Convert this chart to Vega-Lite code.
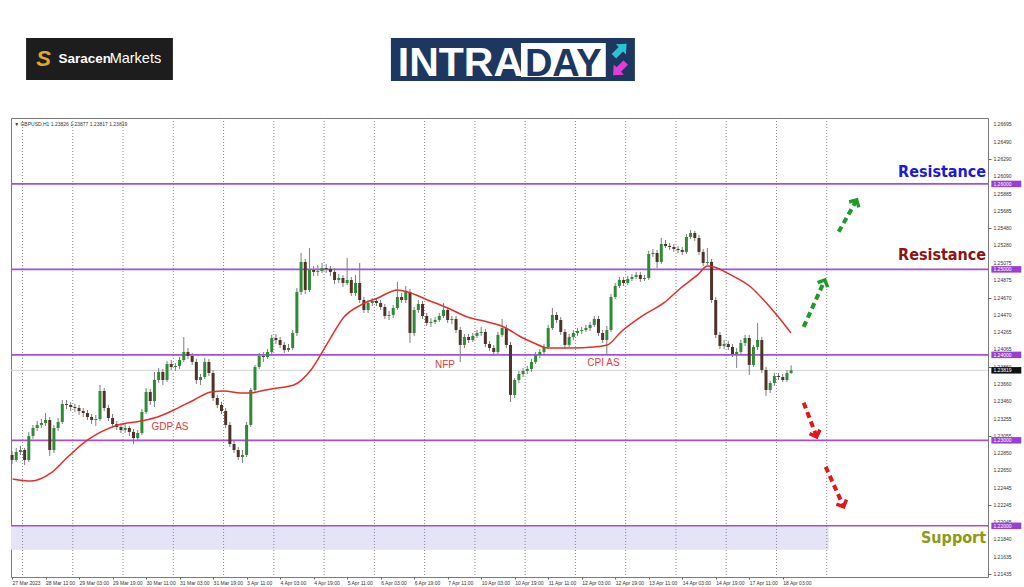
{
"$schema":"https://vega.github.io/schema/vega-lite/v6.json",
"width":977,"height":459,
"autosize":"none",
"padding":{"left":11,"top":118,"right":36,"bottom":10},
"background":"#ffffff",
"config":{"view":{"stroke":"#7a7a7a","strokeWidth":1},"font":"Liberation Sans"},
"datasets":{
"candles":[
{"i":0,"o":1.22829,"h":1.22875,"l":1.22723,"c":1.22770},
{"i":2,"o":1.22770,"h":1.22910,"l":1.22747,"c":1.22864},
{"i":4,"o":1.22864,"h":1.22934,"l":1.22829,"c":1.22887},
{"i":6,"o":1.22887,"h":1.22910,"l":1.22712,"c":1.22770},
{"i":8,"o":1.22770,"h":1.23098,"l":1.22747,"c":1.23051},
{"i":10,"o":1.23051,"h":1.23180,"l":1.23016,"c":1.23144},
{"i":12,"o":1.23144,"h":1.23226,"l":1.23109,"c":1.23180},
{"i":14,"o":1.23180,"h":1.23250,"l":1.23144,"c":1.23203},
{"i":16,"o":1.23203,"h":1.23320,"l":1.23168,"c":1.23238},
{"i":18,"o":1.23238,"h":1.23273,"l":1.22817,"c":1.22887},
{"i":20,"o":1.22887,"h":1.23180,"l":1.22852,"c":1.23144},
{"i":22,"o":1.23144,"h":1.23261,"l":1.23109,"c":1.23215},
{"i":24,"o":1.23215,"h":1.23472,"l":1.23191,"c":1.23425},
{"i":26,"o":1.23425,"h":1.23472,"l":1.23367,"c":1.23414},
{"i":28,"o":1.23414,"h":1.23449,"l":1.23343,"c":1.23390},
{"i":30,"o":1.23390,"h":1.23425,"l":1.23332,"c":1.23378},
{"i":32,"o":1.23378,"h":1.23414,"l":1.23297,"c":1.23343},
{"i":34,"o":1.23343,"h":1.23378,"l":1.23273,"c":1.23320},
{"i":36,"o":1.23320,"h":1.23355,"l":1.23238,"c":1.23273},
{"i":38,"o":1.23273,"h":1.23308,"l":1.23191,"c":1.23238},
{"i":40,"o":1.23238,"h":1.23297,"l":1.23168,"c":1.23250},
{"i":42,"o":1.23250,"h":1.23648,"l":1.23226,"c":1.23577},
{"i":44,"o":1.23577,"h":1.23612,"l":1.23343,"c":1.23378},
{"i":46,"o":1.23378,"h":1.23414,"l":1.23226,"c":1.23261},
{"i":48,"o":1.23261,"h":1.23308,"l":1.23156,"c":1.23191},
{"i":50,"o":1.23191,"h":1.23226,"l":1.23121,"c":1.23156},
{"i":52,"o":1.23156,"h":1.23191,"l":1.23086,"c":1.23121},
{"i":54,"o":1.23121,"h":1.23191,"l":1.23086,"c":1.23144},
{"i":56,"o":1.23144,"h":1.23168,"l":1.23051,"c":1.23098},
{"i":58,"o":1.23098,"h":1.23133,"l":1.22957,"c":1.23027},
{"i":60,"o":1.23027,"h":1.23121,"l":1.22992,"c":1.23086},
{"i":62,"o":1.23086,"h":1.23367,"l":1.23063,"c":1.23332},
{"i":64,"o":1.23332,"h":1.23612,"l":1.23308,"c":1.23566},
{"i":66,"o":1.23566,"h":1.23601,"l":1.23414,"c":1.23460},
{"i":68,"o":1.23460,"h":1.23800,"l":1.23390,"c":1.23706},
{"i":70,"o":1.23706,"h":1.23846,"l":1.23671,"c":1.23800},
{"i":72,"o":1.23800,"h":1.23835,"l":1.23648,"c":1.23706},
{"i":74,"o":1.23706,"h":1.23928,"l":1.23683,"c":1.23893},
{"i":76,"o":1.23893,"h":1.23940,"l":1.23823,"c":1.23858},
{"i":78,"o":1.23858,"h":1.23905,"l":1.23811,"c":1.23870},
{"i":80,"o":1.23870,"h":1.23975,"l":1.23835,"c":1.23940},
{"i":82,"o":1.23940,"h":1.24209,"l":1.23917,"c":1.24034},
{"i":84,"o":1.24034,"h":1.24080,"l":1.23952,"c":1.23987},
{"i":86,"o":1.23987,"h":1.24022,"l":1.23882,"c":1.23917},
{"i":88,"o":1.23917,"h":1.23952,"l":1.23659,"c":1.23706},
{"i":90,"o":1.23706,"h":1.23776,"l":1.23648,"c":1.23741},
{"i":92,"o":1.23741,"h":1.23963,"l":1.23718,"c":1.23917},
{"i":94,"o":1.23917,"h":1.23952,"l":1.23753,"c":1.23788},
{"i":96,"o":1.23788,"h":1.23823,"l":1.23460,"c":1.23495},
{"i":98,"o":1.23495,"h":1.23531,"l":1.23378,"c":1.23414},
{"i":100,"o":1.23414,"h":1.23449,"l":1.23308,"c":1.23343},
{"i":102,"o":1.23343,"h":1.23378,"l":1.23144,"c":1.23180},
{"i":104,"o":1.23180,"h":1.23215,"l":1.22922,"c":1.22957},
{"i":106,"o":1.22957,"h":1.23004,"l":1.22852,"c":1.22887},
{"i":108,"o":1.22887,"h":1.22922,"l":1.22770,"c":1.22805},
{"i":110,"o":1.22805,"h":1.22887,"l":1.22735,"c":1.22829},
{"i":112,"o":1.22829,"h":1.23215,"l":1.22805,"c":1.23180},
{"i":114,"o":1.23180,"h":1.23612,"l":1.23156,"c":1.23589},
{"i":116,"o":1.23589,"h":1.23882,"l":1.23566,"c":1.23858},
{"i":118,"o":1.23858,"h":1.24022,"l":1.23835,"c":1.23987},
{"i":120,"o":1.23987,"h":1.24034,"l":1.23917,"c":1.23975},
{"i":122,"o":1.23975,"h":1.24069,"l":1.23952,"c":1.24034},
{"i":124,"o":1.24034,"h":1.24233,"l":1.24010,"c":1.24197},
{"i":126,"o":1.24197,"h":1.24244,"l":1.24127,"c":1.24174},
{"i":128,"o":1.24174,"h":1.24209,"l":1.24080,"c":1.24116},
{"i":130,"o":1.24116,"h":1.24151,"l":1.24022,"c":1.24057},
{"i":132,"o":1.24057,"h":1.24127,"l":1.24034,"c":1.24080},
{"i":134,"o":1.24080,"h":1.24291,"l":1.24057,"c":1.24256},
{"i":136,"o":1.24256,"h":1.24782,"l":1.24221,"c":1.24736},
{"i":138,"o":1.24736,"h":1.25192,"l":1.24701,"c":1.25087},
{"i":140,"o":1.25087,"h":1.25122,"l":1.24712,"c":1.24759},
{"i":142,"o":1.24759,"h":1.25250,"l":1.24736,"c":1.24993},
{"i":144,"o":1.24993,"h":1.25040,"l":1.24923,"c":1.24970},
{"i":146,"o":1.24970,"h":1.25052,"l":1.24923,"c":1.24981},
{"i":148,"o":1.24981,"h":1.25075,"l":1.24958,"c":1.25016},
{"i":150,"o":1.25016,"h":1.25063,"l":1.24958,"c":1.25005},
{"i":152,"o":1.25005,"h":1.25040,"l":1.24923,"c":1.24970},
{"i":154,"o":1.24970,"h":1.25016,"l":1.24829,"c":1.24876},
{"i":156,"o":1.24876,"h":1.24946,"l":1.24841,"c":1.24899},
{"i":158,"o":1.24899,"h":1.24935,"l":1.24794,"c":1.24841},
{"i":160,"o":1.24841,"h":1.25133,"l":1.24818,"c":1.24876},
{"i":162,"o":1.24876,"h":1.24911,"l":1.24689,"c":1.24724},
{"i":164,"o":1.24724,"h":1.24935,"l":1.24689,"c":1.24841},
{"i":166,"o":1.24841,"h":1.25075,"l":1.24607,"c":1.24642},
{"i":168,"o":1.24642,"h":1.24677,"l":1.24490,"c":1.24525},
{"i":170,"o":1.24525,"h":1.24642,"l":1.24490,"c":1.24607},
{"i":172,"o":1.24607,"h":1.24665,"l":1.24572,"c":1.24630},
{"i":174,"o":1.24630,"h":1.24665,"l":1.24572,"c":1.24607},
{"i":176,"o":1.24607,"h":1.24642,"l":1.24525,"c":1.24560},
{"i":178,"o":1.24560,"h":1.24595,"l":1.24420,"c":1.24455},
{"i":180,"o":1.24455,"h":1.24513,"l":1.24408,"c":1.24467},
{"i":182,"o":1.24467,"h":1.24584,"l":1.24431,"c":1.24548},
{"i":184,"o":1.24548,"h":1.24853,"l":1.24525,"c":1.24677},
{"i":186,"o":1.24677,"h":1.24724,"l":1.24607,"c":1.24642},
{"i":188,"o":1.24642,"h":1.24806,"l":1.24607,"c":1.24736},
{"i":190,"o":1.24736,"h":1.24771,"l":1.24139,"c":1.24256},
{"i":192,"o":1.24256,"h":1.24560,"l":1.24221,"c":1.24525},
{"i":194,"o":1.24525,"h":1.24642,"l":1.24490,"c":1.24595},
{"i":196,"o":1.24595,"h":1.24630,"l":1.24420,"c":1.24455},
{"i":198,"o":1.24455,"h":1.24490,"l":1.24338,"c":1.24373},
{"i":200,"o":1.24373,"h":1.24431,"l":1.24326,"c":1.24385},
{"i":202,"o":1.24385,"h":1.24443,"l":1.24361,"c":1.24408},
{"i":204,"o":1.24408,"h":1.24490,"l":1.24385,"c":1.24455},
{"i":206,"o":1.24455,"h":1.24607,"l":1.24431,"c":1.24525},
{"i":208,"o":1.24525,"h":1.24560,"l":1.24373,"c":1.24408},
{"i":210,"o":1.24408,"h":1.24455,"l":1.24361,"c":1.24420},
{"i":212,"o":1.24420,"h":1.24455,"l":1.24256,"c":1.24291},
{"i":214,"o":1.24291,"h":1.24326,"l":1.23917,"c":1.24116},
{"i":216,"o":1.24116,"h":1.24244,"l":1.24080,"c":1.24209},
{"i":218,"o":1.24209,"h":1.24244,"l":1.24139,"c":1.24174},
{"i":220,"o":1.24174,"h":1.24256,"l":1.24151,"c":1.24221},
{"i":222,"o":1.24221,"h":1.24291,"l":1.24197,"c":1.24256},
{"i":224,"o":1.24256,"h":1.24326,"l":1.24221,"c":1.24268},
{"i":226,"o":1.24268,"h":1.24303,"l":1.24092,"c":1.24127},
{"i":228,"o":1.24127,"h":1.24162,"l":1.24045,"c":1.24080},
{"i":230,"o":1.24080,"h":1.24116,"l":1.23987,"c":1.24034},
{"i":232,"o":1.24034,"h":1.24268,"l":1.24010,"c":1.24233},
{"i":234,"o":1.24233,"h":1.24420,"l":1.24209,"c":1.24314},
{"i":236,"o":1.24314,"h":1.24350,"l":1.24080,"c":1.24116},
{"i":238,"o":1.24116,"h":1.24151,"l":1.23449,"c":1.23531},
{"i":240,"o":1.23531,"h":1.23729,"l":1.23495,"c":1.23706},
{"i":242,"o":1.23706,"h":1.23811,"l":1.23671,"c":1.23776},
{"i":244,"o":1.23776,"h":1.23846,"l":1.23741,"c":1.23811},
{"i":246,"o":1.23811,"h":1.23870,"l":1.23776,"c":1.23835},
{"i":248,"o":1.23835,"h":1.23952,"l":1.23800,"c":1.23917},
{"i":250,"o":1.23917,"h":1.24034,"l":1.23893,"c":1.23999},
{"i":252,"o":1.23999,"h":1.24069,"l":1.23963,"c":1.24034},
{"i":254,"o":1.24034,"h":1.24127,"l":1.23999,"c":1.24092},
{"i":256,"o":1.24092,"h":1.24350,"l":1.24069,"c":1.24314},
{"i":258,"o":1.24314,"h":1.24548,"l":1.24291,"c":1.24467},
{"i":260,"o":1.24467,"h":1.24502,"l":1.24373,"c":1.24408},
{"i":262,"o":1.24408,"h":1.24443,"l":1.24233,"c":1.24268},
{"i":264,"o":1.24268,"h":1.24303,"l":1.24069,"c":1.24116},
{"i":266,"o":1.24116,"h":1.24244,"l":1.24092,"c":1.24209},
{"i":268,"o":1.24209,"h":1.24291,"l":1.24174,"c":1.24256},
{"i":270,"o":1.24256,"h":1.24314,"l":1.24221,"c":1.24279},
{"i":272,"o":1.24279,"h":1.24326,"l":1.24244,"c":1.24291},
{"i":274,"o":1.24291,"h":1.24350,"l":1.24268,"c":1.24314},
{"i":276,"o":1.24314,"h":1.24385,"l":1.24279,"c":1.24350},
{"i":278,"o":1.24350,"h":1.24455,"l":1.24326,"c":1.24420},
{"i":280,"o":1.24420,"h":1.24455,"l":1.24221,"c":1.24256},
{"i":282,"o":1.24256,"h":1.24291,"l":1.24139,"c":1.24174},
{"i":284,"o":1.24174,"h":1.24338,"l":1.24010,"c":1.24291},
{"i":286,"o":1.24291,"h":1.24712,"l":1.24268,"c":1.24677},
{"i":288,"o":1.24677,"h":1.24841,"l":1.24654,"c":1.24806},
{"i":290,"o":1.24806,"h":1.24911,"l":1.24782,"c":1.24876},
{"i":292,"o":1.24876,"h":1.24911,"l":1.24806,"c":1.24841},
{"i":294,"o":1.24841,"h":1.24923,"l":1.24818,"c":1.24888},
{"i":296,"o":1.24888,"h":1.24946,"l":1.24864,"c":1.24911},
{"i":298,"o":1.24911,"h":1.24970,"l":1.24888,"c":1.24935},
{"i":300,"o":1.24935,"h":1.24970,"l":1.24853,"c":1.24888},
{"i":302,"o":1.24888,"h":1.24935,"l":1.24864,"c":1.24899},
{"i":304,"o":1.24899,"h":1.25215,"l":1.24876,"c":1.25180},
{"i":306,"o":1.25180,"h":1.25239,"l":1.25145,"c":1.25192},
{"i":308,"o":1.25192,"h":1.25227,"l":1.25016,"c":1.25087},
{"i":310,"o":1.25087,"h":1.25367,"l":1.25063,"c":1.25297},
{"i":312,"o":1.25297,"h":1.25344,"l":1.25250,"c":1.25274},
{"i":314,"o":1.25274,"h":1.25309,"l":1.25227,"c":1.25262},
{"i":316,"o":1.25262,"h":1.25297,"l":1.25204,"c":1.25239},
{"i":318,"o":1.25239,"h":1.25274,"l":1.25192,"c":1.25227},
{"i":320,"o":1.25227,"h":1.25262,"l":1.25169,"c":1.25204},
{"i":322,"o":1.25204,"h":1.25414,"l":1.25180,"c":1.25379},
{"i":324,"o":1.25379,"h":1.25461,"l":1.25356,"c":1.25426},
{"i":326,"o":1.25426,"h":1.25449,"l":1.25332,"c":1.25367},
{"i":328,"o":1.25367,"h":1.25403,"l":1.25169,"c":1.25204},
{"i":330,"o":1.25204,"h":1.25239,"l":1.25040,"c":1.25075},
{"i":332,"o":1.25075,"h":1.25250,"l":1.25052,"c":1.25087},
{"i":334,"o":1.25087,"h":1.25122,"l":1.24607,"c":1.24642},
{"i":336,"o":1.24642,"h":1.24677,"l":1.24197,"c":1.24233},
{"i":338,"o":1.24233,"h":1.24268,"l":1.24069,"c":1.24104},
{"i":340,"o":1.24104,"h":1.24174,"l":1.24069,"c":1.24127},
{"i":342,"o":1.24127,"h":1.24162,"l":1.24057,"c":1.24092},
{"i":344,"o":1.24092,"h":1.24127,"l":1.23975,"c":1.24010},
{"i":346,"o":1.24010,"h":1.24080,"l":1.23846,"c":1.24034},
{"i":348,"o":1.24034,"h":1.24174,"l":1.23999,"c":1.24139},
{"i":350,"o":1.24139,"h":1.24233,"l":1.24104,"c":1.24197},
{"i":352,"o":1.24197,"h":1.24233,"l":1.23765,"c":1.23882},
{"i":354,"o":1.23882,"h":1.24116,"l":1.23858,"c":1.24092},
{"i":356,"o":1.24092,"h":1.24373,"l":1.24057,"c":1.24174},
{"i":358,"o":1.24174,"h":1.24209,"l":1.23788,"c":1.23823},
{"i":360,"o":1.23823,"h":1.23858,"l":1.23519,"c":1.23589},
{"i":362,"o":1.23589,"h":1.23694,"l":1.23554,"c":1.23671},
{"i":364,"o":1.23671,"h":1.23788,"l":1.23636,"c":1.23753},
{"i":366,"o":1.23753,"h":1.23788,"l":1.23706,"c":1.23741},
{"i":368,"o":1.23741,"h":1.23776,"l":1.23683,"c":1.23706},
{"i":370,"o":1.23706,"h":1.23823,"l":1.23683,"c":1.23788},
{"i":372,"o":1.23788,"h":1.23877,"l":1.23776,"c":1.23819}
],
"ma":[
{"i":0.3,"v":1.22548},{"i":9.1,"v":1.22524},{"i":18.6,"v":1.22618},{"i":26.6,"v":1.22805},{"i":36.1,"v":1.23004},{"i":42.5,"v":1.23098},{"i":50.5,"v":1.2318},{"i":61.6,"v":1.23226},{"i":69.5,"v":1.23273},{"i":77.3,"v":1.23355},{"i":86.9,"v":1.23472},{"i":95,"v":1.23566},{"i":101.2,"v":1.23577},{"i":109.3,"v":1.23554},{"i":114.1,"v":1.23554},{"i":118.9,"v":1.23577},{"i":123.6,"v":1.23601},{"i":134.6,"v":1.23648},{"i":142.7,"v":1.23823},{"i":150.7,"v":1.24139},{"i":158.5,"v":1.24443},{"i":166.6,"v":1.24584},{"i":174.6,"v":1.24665},{"i":184.1,"v":1.24759},{"i":188.9,"v":1.24736},{"i":198.4,"v":1.24642},{"i":208,"v":1.24548},{"i":217.5,"v":1.24443},{"i":227.1,"v":1.24385},{"i":234.8,"v":1.24326},{"i":243,"v":1.24209},{"i":249.2,"v":1.24139},{"i":255.7,"v":1.2408},{"i":266.8,"v":1.2408},{"i":277.8,"v":1.24092},{"i":284.3,"v":1.24116},{"i":290.7,"v":1.24268},{"i":301.7,"v":1.24467},{"i":311.2,"v":1.24607},{"i":319.3,"v":1.24782},{"i":327.3,"v":1.24935},{"i":332.1,"v":1.2504},{"i":335.1,"v":1.25028},{"i":343.2,"v":1.24935},{"i":352.7,"v":1.24794},{"i":358.9,"v":1.24642},{"i":367.1,"v":1.24408},{"i":371.9,"v":1.24256}
],
"levels":[{"p":1.26,"t":"1.26000"},{"p":1.25,"t":"1.25000"},{"p":1.24,"t":"1.24000"},{"p":1.23,"t":"1.23000"},{"p":1.22,"t":"1.22000"}],
"yticks":[{"p":1.26695},{"p":1.2649},{"p":1.2629},{"p":1.2609},{"p":1.25885},{"p":1.25685},{"p":1.2548},{"p":1.2528},{"p":1.25075},{"p":1.24875},{"p":1.2467},{"p":1.2447},{"p":1.24265},{"p":1.24065},{"p":1.2386},{"p":1.2366},{"p":1.2346},{"p":1.23255},{"p":1.23055},{"p":1.2285},{"p":1.2265},{"p":1.22445},{"p":1.22245},{"p":1.22045},{"p":1.2184},{"p":1.21635},{"p":1.21435}],
"grid":[{"i":5},{"i":29},{"i":53},{"i":77},{"i":101},{"i":125},{"i":149},{"i":173},{"i":197},{"i":221},{"i":245},{"i":269},{"i":293},{"i":317},{"i":341},{"i":365},{"i":389}],
"arrows":[
{"i0":394.7,"p0":1.25439,"i1":403.3,"p1":1.25813,"d":"up"},
{"i0":378.0,"p0":1.24327,"i1":388.1,"p1":1.24877,"d":"up"},
{"i0":378.0,"p0":1.23439,"i1":384.2,"p1":1.23041,"d":"down"},
{"i0":388.5,"p0":1.22690,"i1":397.1,"p1":1.22222,"d":"down"}
]
},
"layer":[
{"data":{"values":[{"i0":-0.5,"i1":390,"p0":1.21719,"p1":1.22}]},
 "mark":{"type":"rect","color":"#e4e4f6"},
 "encoding":{
  "x":{"field":"i0","type":"quantitative","scale":{"domain":[-0.5,466],"nice":false,"zero":false,"padding":0},
   "axis":{"orient":"bottom","values":[0,16,32,48,64,80,96,112,128,144,160,176,192,208,224,240,256,272,288,304,320,336,352,368],
    "labelExpr":"['27 Mar 2023','28 Mar 11:00','29 Mar 03:00','29 Mar 19:00','30 Mar 11:00','31 Mar 03:00','31 Mar 19:00','3 Apr 11:00','4 Apr 03:00','4 Apr 19:00','5 Apr 11:00','6 Apr 03:00','6 Apr 19:00','7 Apr 11:00','10 Apr 03:00','10 Apr 19:00','11 Apr 11:00','12 Apr 03:00','12 Apr 19:00','13 Apr 11:00','14 Apr 03:00','14 Apr 19:00','17 Apr 11:00','18 Apr 03:00'][round(datum.value/16)]",
    "labelAlign":"left","labelFontSize":5,"labelColor":"#333333","tickSize":2,"tickColor":"#666666","labelPadding":1,"domain":false,"grid":false,"title":null,"labelFlush":false,"labelOverlap":false}},
  "x2":{"field":"i1"},
  "y":{"field":"p0","type":"quantitative","scale":{"domain":[1.21401,1.26771],"nice":false,"zero":false,"padding":0},
   "axis":{"orient":"right","values":[1.26695,1.2649,1.2629,1.2609,1.25885,1.25685,1.2548,1.2528,1.25075,1.24875,1.2467,1.2447,1.24265,1.24065,1.2386,1.2366,1.2346,1.23255,1.23055,1.2285,1.2265,1.22445,1.22245,1.22045,1.2184,1.21635,1.21435],
    "labels":false,"tickSize":3,"tickColor":"#666666","domain":false,"grid":false,"title":null}},
  "y2":{"field":"p1"}}},
{"data":{"name":"yticks"},"mark":{"type":"text","color":"#333333","fontSize":5,"align":"left","baseline":"middle"},
 "encoding":{"x":{"datum":468.6,"type":"quantitative"},"y":{"field":"p","type":"quantitative"},"text":{"field":"p","type":"quantitative","format":".5f"}}},
{"data":{"name":"grid"},"mark":{"type":"rule","color":"#8a8a8a","strokeDash":[1,2],"strokeWidth":1},
 "encoding":{"x":{"field":"i","type":"quantitative"}}},
{"data":{"name":"levels"},"mark":{"type":"rule","color":"#a44fd8","strokeWidth":1.6},
 "encoding":{"y":{"field":"p","type":"quantitative"}}},
{"data":{"values":[{"p":1.23819}]},"mark":{"type":"rule","color":"#d2d2d2","strokeWidth":1},
 "encoding":{"y":{"field":"p","type":"quantitative"}}},
{"data":{"name":"candles"},"mark":{"type":"rule","color":"#7d7d7d","strokeWidth":1},
 "encoding":{"x":{"field":"i","type":"quantitative"},"y":{"field":"l","type":"quantitative"},"y2":{"field":"h"}}},
{"data":{"name":"candles"},"mark":{"type":"bar","size":3},
 "encoding":{"x":{"field":"i","type":"quantitative"},"y":{"field":"o","type":"quantitative"},"y2":{"field":"c"},
  "color":{"condition":{"test":"datum.c >= datum.o","value":"#2f8a37"},"value":"#4e3428"}}},
{"data":{"name":"ma"},"mark":{"type":"line","color":"#e0302a","strokeWidth":1.5,"interpolate":"monotone"},
 "encoding":{"x":{"field":"i","type":"quantitative"},"y":{"field":"v","type":"quantitative"}}},
{"data":{"values":[{"i":75.4,"p":1.23156,"t":"GDP AS"},{"i":206.7,"p":1.23882,"t":"NFP"},{"i":282.4,"p":1.23905,"t":"CPI AS"}]},
 "mark":{"type":"text","color":"#e33b36","fontSize":10,"align":"center","baseline":"middle"},
 "encoding":{"x":{"field":"i","type":"quantitative"},"y":{"field":"p","type":"quantitative"},"text":{"field":"t"}}},
{"data":{"values":[{"i":1.0,"p":1.26701,"t":"▼ GBPUSD,H1  1.23826 1.23877 1.23817 1.23819"}]},
 "mark":{"type":"text","color":"#333333","fontSize":5,"align":"left","baseline":"middle"},
 "encoding":{"x":{"field":"i","type":"quantitative"},"y":{"field":"p","type":"quantitative"},"text":{"field":"t"}}},
{"data":{"name":"levels"},"transform":[{"calculate":"datum.p - 0.00038","as":"lo"},{"calculate":"datum.p + 0.00038","as":"hi"}],
 "mark":{"type":"rect","color":"#9b3fd2"},
 "encoding":{"x":{"datum":467.6,"type":"quantitative"},"x2":{"datum":481.9},"y":{"field":"lo","type":"quantitative"},"y2":{"field":"hi"}}},
{"data":{"name":"levels"},"mark":{"type":"text","color":"#ffffff","fontSize":5,"align":"left","baseline":"middle"},
 "encoding":{"x":{"datum":468.6,"type":"quantitative"},"y":{"field":"p","type":"quantitative"},"text":{"field":"t"}}},
{"data":{"values":[{"p":1.23819,"t":"1.23819"}]},"transform":[{"calculate":"datum.p - 0.00038","as":"lo"},{"calculate":"datum.p + 0.00038","as":"hi"}],
 "mark":{"type":"rect","color":"#111111"},
 "encoding":{"x":{"datum":467.6,"type":"quantitative"},"x2":{"datum":481.9},"y":{"field":"lo","type":"quantitative"},"y2":{"field":"hi"}}},
{"data":{"values":[{"p":1.23819,"t":"1.23819"}]},"mark":{"type":"text","color":"#ffffff","fontSize":5,"align":"left","baseline":"middle"},
 "encoding":{"x":{"datum":468.6,"type":"quantitative"},"y":{"field":"p","type":"quantitative"},"text":{"field":"t"}}},
{"data":{"values":[{"i":465.1,"p":1.2614,"t":"Resistance"}]},
 "mark":{"type":"text","color":"#1a1ad8","font":"DejaVu Sans Condensed","fontWeight":"bold","fontSize":16,"align":"right","baseline":"middle"},
 "encoding":{"x":{"field":"i","type":"quantitative"},"y":{"field":"p","type":"quantitative"},"text":{"field":"t"}}},
{"data":{"values":[{"i":465.1,"p":1.25168,"t":"Resistance"}]},
 "mark":{"type":"text","color":"#8b1414","font":"DejaVu Sans Condensed","fontWeight":"bold","fontSize":16,"align":"right","baseline":"middle"},
 "encoding":{"x":{"field":"i","type":"quantitative"},"y":{"field":"p","type":"quantitative"},"text":{"field":"t"}}},
{"data":{"values":[{"i":465.1,"p":1.21857,"t":"Support"}]},
 "mark":{"type":"text","color":"#8c9a14","font":"DejaVu Sans Condensed","fontWeight":"bold","fontSize":16,"align":"right","baseline":"middle"},
 "encoding":{"x":{"field":"i","type":"quantitative"},"y":{"field":"p","type":"quantitative"},"text":{"field":"t"}}},
{"data":{"name":"arrows"},"transform":[{"filter":"datum.d == 'up'"}],
 "mark":{"type":"rule","color":"#1f9a2a","strokeWidth":4,"strokeDash":[6,4]},
 "encoding":{"x":{"field":"i0","type":"quantitative"},"y":{"field":"p0","type":"quantitative"},"x2":{"field":"i1"},"y2":{"field":"p1"}}},
{"data":{"name":"arrows"},"transform":[{"filter":"datum.d == 'down'"}],
 "mark":{"type":"rule","color":"#e3151b","strokeWidth":4,"strokeDash":[6,4]},
 "encoding":{"x":{"field":"i0","type":"quantitative"},"y":{"field":"p0","type":"quantitative"},"x2":{"field":"i1"},"y2":{"field":"p1"}}},
{"data":{"name":"arrows"},"transform":[{"filter":"datum.d == 'up'"},{"calculate":"atan2((datum.i1-datum.i0)*2.095,(datum.p1-datum.p0)*8550)*180/PI","as":"ang"}],
 "mark":{"type":"point","shape":"M -0.9 0.9 L 0 0 L 0.9 0.9","filled":false,"color":"#1f9a2a","strokeWidth":3.5,"size":150,"opacity":1},
 "encoding":{"x":{"field":"i1","type":"quantitative"},"y":{"field":"p1","type":"quantitative"},"angle":{"field":"ang","type":"quantitative","scale":null}}},
{"data":{"name":"arrows"},"transform":[{"filter":"datum.d == 'down'"},{"calculate":"atan2((datum.i1-datum.i0)*2.095,(datum.p1-datum.p0)*8550)*180/PI","as":"ang"}],
 "mark":{"type":"point","shape":"M -0.9 0.9 L 0 0 L 0.9 0.9","filled":false,"color":"#e3151b","strokeWidth":3.5,"size":150,"opacity":1},
 "encoding":{"x":{"field":"i1","type":"quantitative"},"y":{"field":"p1","type":"quantitative"},"angle":{"field":"ang","type":"quantitative","scale":null}}},
{"data":{"values":[{"i0":6.7,"i1":76.8,"p0":1.27216,"p1":1.27707}]},"mark":{"type":"rect","color":"#1d1d1d"},
 "encoding":{"x":{"field":"i0","type":"quantitative"},"x2":{"field":"i1"},"y":{"field":"p0","type":"quantitative"},"y2":{"field":"p1"}}},
{"data":{"values":[{"i":15.1,"p":1.27462,"t":"S"}]},"mark":{"type":"text","color":"#e0a630","fontSize":22,"fontWeight":"bold","fontStyle":"italic","align":"center","baseline":"middle"},
 "encoding":{"x":{"field":"i","type":"quantitative"},"y":{"field":"p","type":"quantitative"},"text":{"field":"t"}}},
{"data":{"values":[{"i":22.2,"p":1.27462,"t":"Saracen"}]},"mark":{"type":"text","color":"#ffffff","fontSize":13.5,"fontWeight":"bold","align":"left","baseline":"middle"},
 "encoding":{"x":{"field":"i","type":"quantitative"},"y":{"field":"p","type":"quantitative"},"text":{"field":"t"}}},
{"data":{"values":[{"i":46.6,"p":1.27462,"t":"Markets"}]},"mark":{"type":"text","color":"#ffffff","fontSize":14.5,"align":"left","baseline":"middle"},
 "encoding":{"x":{"field":"i","type":"quantitative"},"y":{"field":"p","type":"quantitative"},"text":{"field":"t"}}},
{"data":{"values":[{"i0":180.9,"i1":297.4,"p0":1.27204,"p1":1.27707}]},"mark":{"type":"rect","color":"#1e3760"},
 "encoding":{"x":{"field":"i0","type":"quantitative"},"x2":{"field":"i1"},"y":{"field":"p0","type":"quantitative"},"y2":{"field":"p1"}}},
{"data":{"values":[{"i0":243.0,"i1":283.5,"p0":1.27251,"p1":1.27649}]},"mark":{"type":"rect","color":"#ffffff"},
 "encoding":{"x":{"field":"i0","type":"quantitative"},"x2":{"field":"i1"},"y":{"field":"p0","type":"quantitative"},"y2":{"field":"p1"}}},
{"data":{"values":[{"i":184.2,"p":1.27263,"t":"INTRA"}]},"mark":{"type":"text","color":"#ffffff","fontSize":41,"fontWeight":"bold","align":"left","baseline":"alphabetic"},
 "encoding":{"x":{"field":"i","type":"quantitative"},"y":{"field":"p","type":"quantitative"},"text":{"field":"t"}}},
{"data":{"values":[{"i":263.2,"p":1.27263,"t":"DAY"}]},"mark":{"type":"text","color":"#1e3760","fontSize":38,"fontWeight":"bold","align":"center","baseline":"alphabetic"},
 "encoding":{"x":{"field":"i","type":"quantitative"},"y":{"field":"p","type":"quantitative"},"text":{"field":"t"}}},
{"data":{"values":[{"i":290.4,"p":1.27567}]},"mark":{"type":"point","shape":"M -0.35 1 L -0.35 -0.1 L -0.8 -0.1 L 0 -1 L 0.8 -0.1 L 0.35 -0.1 L 0.35 1 Z","filled":true,"color":"#2bc3d2","size":320,"angle":45,"opacity":1},
 "encoding":{"x":{"field":"i","type":"quantitative"},"y":{"field":"p","type":"quantitative"}}},
{"data":{"values":[{"i":290.0,"p":1.27345}]},"mark":{"type":"point","shape":"M -0.35 1 L -0.35 -0.1 L -0.8 -0.1 L 0 -1 L 0.8 -0.1 L 0.35 -0.1 L 0.35 1 Z","filled":true,"color":"#e63bd6","size":320,"angle":225,"opacity":1},
 "encoding":{"x":{"field":"i","type":"quantitative"},"y":{"field":"p","type":"quantitative"}}}
]
}
